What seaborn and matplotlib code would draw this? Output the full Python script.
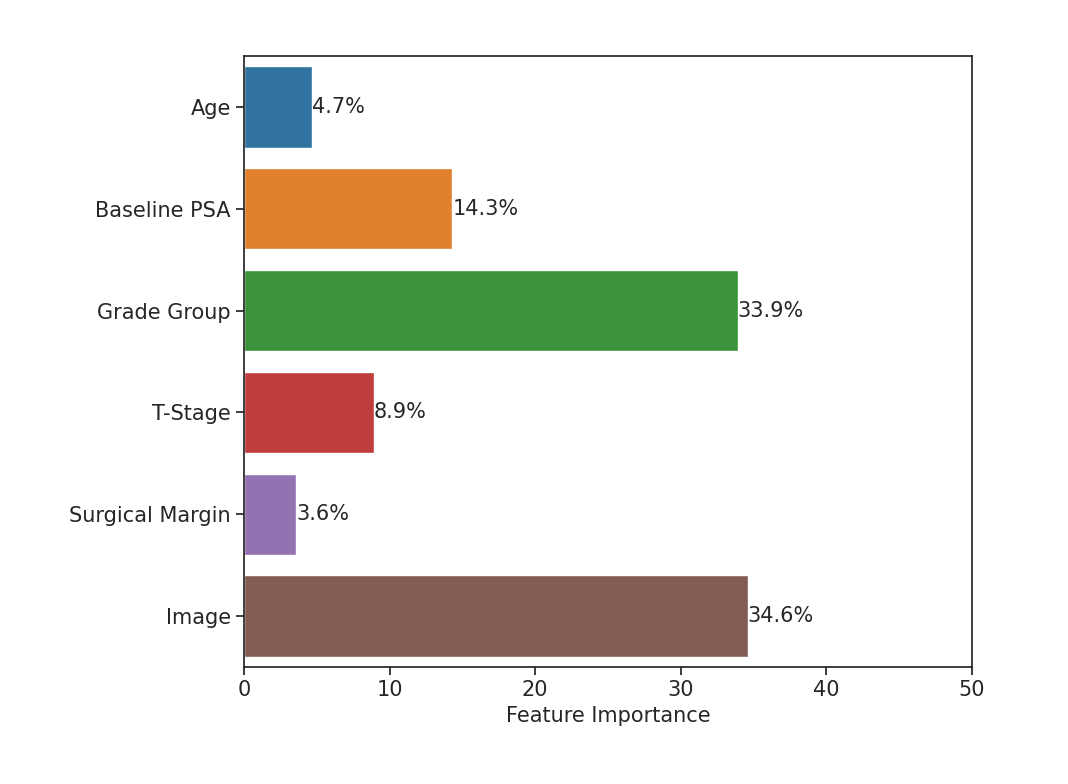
import matplotlib
matplotlib.use("Agg")
import matplotlib.pyplot as plt
import seaborn as sns
import pandas as pd

sns.set_theme(style="ticks")
plt.rcParams['font.family'] = ['DejaVu Sans']

features = ['Age', 'Baseline PSA', 'Grade Group', 'T-Stage', 'Surgical Margin', 'Image']
importance = [4.7, 14.3, 33.9, 8.9, 3.6, 34.6]

df = pd.DataFrame({'feature': features, 'importance': importance})

fig = plt.figure(figsize=(10.68, 7.84), dpi=100)
ax = fig.add_axes([244 / 1068, 1 - 667 / 784, (972 - 244) / 1068, (667 - 56) / 784])

sns.barplot(data=df, x='importance', y='feature', hue='feature', palette='tab10',
            legend=False, ax=ax)

for c in ax.containers:
    ax.bar_label(c, fmt='%.1f%%', fontsize=15, color='#262626')

ax.set_xlim(0, 50)
ax.set_xlabel('Feature Importance', fontsize=15)
ax.set_ylabel('')
ax.tick_params(labelsize=15, length=6)
for s in ax.spines.values():
    s.set_color('#262626')

fig.savefig('out.png', dpi=100)
